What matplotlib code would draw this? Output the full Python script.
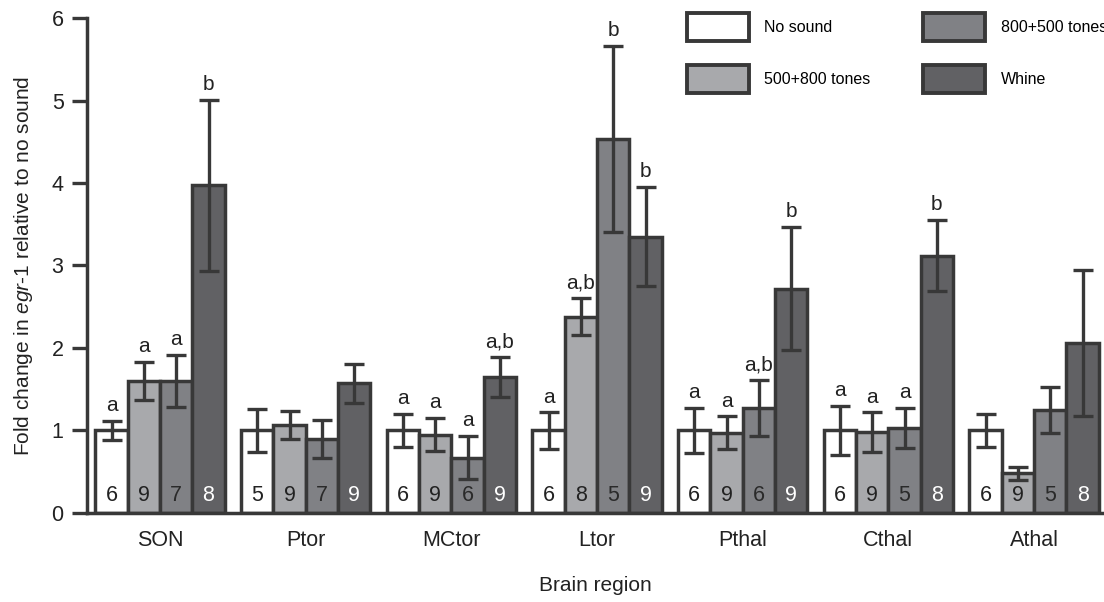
import numpy as np
import matplotlib
matplotlib.use('Agg')
import matplotlib.pyplot as plt
from matplotlib.patches import Patch

plt.rcParams['font.family'] = ['Liberation Sans', 'DejaVu Sans']
plt.rcParams['mathtext.fontset'] = 'custom'
plt.rcParams['mathtext.it'] = 'Liberation Sans:italic'
plt.rcParams['mathtext.rm'] = 'Liberation Sans'

# data
regions = ['SON', 'Ptor', 'MCtor', 'Ltor', 'Pthal', 'Cthal', 'Athal']
treatments = ['No sound', '500+800 tones', '800+500 tones', 'Whine']

no_sound = [1.00, 1.00, 1.00, 1.00, 1.00, 1.00, 1.00]
tones_500_800 = [1.60, 1.07, 0.95, 2.38, 0.97, 0.98, 0.48]
tones_800_500 = [1.60, 0.90, 0.67, 4.53, 1.27, 1.03, 1.25]
whine = [3.97, 1.57, 1.65, 3.35, 2.72, 3.12, 2.06]

no_sound_err = [0.12, 0.26, 0.20, 0.22, 0.27, 0.30, 0.20]
tones_500_800_err = [0.23, 0.17, 0.20, 0.22, 0.20, 0.24, 0.08]
tones_800_500_err = [0.32, 0.23, 0.26, 1.13, 0.34, 0.24, 0.28]
whine_err = [1.04, 0.24, 0.24, 0.60, 0.75, 0.43, 0.89]

n_no_sound = [6, 5, 6, 6, 6, 6, 6]
n_500_800 = [9, 9, 9, 8, 9, 9, 9]
n_800_500 = [7, 7, 6, 5, 6, 5, 5]
n_whine = [8, 9, 9, 9, 9, 8, 8]

let_no_sound = ['a', '', 'a', 'a', 'a', 'a', '']
let_500_800 = ['a', '', 'a', 'a,b', 'a', 'a', '']
let_800_500 = ['a', '', 'a', 'b', 'a,b', 'a', '']
let_whine = ['b', '', 'a,b', 'b', 'b', 'b', '']

means = [no_sound, tones_500_800, tones_800_500, whine]
errs = [no_sound_err, tones_500_800_err, tones_800_500_err, whine_err]
ns = [n_no_sound, n_500_800, n_800_500, n_whine]
letters = [let_no_sound, let_500_800, let_800_500, let_whine]

colors = ['#ffffff', '#a8a9ac', '#808185', '#616164']
num_colors = ['#222222', '#222222', '#2a2a2a', '#ffffff']
edge = '#383838'

fig = plt.figure(figsize=(11.04, 6.02), dpi=100)
ax = fig.add_axes([0.079, 0.148, 0.921, 0.822])

x = np.arange(len(regions))
width = 0.222

for i in range(4):
    pos = x + (i - 1.5) * width
    ax.bar(pos, means[i], width, color=colors[i], edgecolor=edge, linewidth=2.5, zorder=2)
    ax.errorbar(pos, means[i], yerr=errs[i], fmt='none', ecolor=edge,
                elinewidth=2.4, capsize=7.5, capthick=2.4, zorder=3)
    for j in range(len(regions)):
        ax.text(pos[j], 0.08, str(ns[i][j]), ha='center', va='bottom',
                fontsize=15.5, color=num_colors[i], zorder=4)
        if letters[i][j]:
            ax.text(pos[j], means[i][j] + errs[i][j] + 0.07, letters[i][j],
                    ha='center', va='bottom', fontsize=15, color='#222222')

ax.set_xlim(-0.5, 6.48)
ax.set_ylim(0, 6)
ax.set_yticks(range(7))
ax.set_xticks(x)
ax.set_xticklabels(regions)
ax.tick_params(axis='x', length=0, pad=12, labelsize=15.5, colors='#222222')
ax.tick_params(axis='y', length=11, width=2.4, pad=6, labelsize=15.5, color=edge, labelcolor='#222222')
for s in ['top', 'right']:
    ax.spines[s].set_visible(False)
for s in ['left', 'bottom']:
    ax.spines[s].set_linewidth(2.5)
    ax.spines[s].set_color(edge)
    ax.spines[s].set_zorder(5)

ax.set_xlabel('Brain region', fontsize=15, labelpad=18, color='#222222')
ax.set_ylabel('Fold change in $\\mathit{egr}$-$\\mathit{1}$ relative to no sound',
              fontsize=15, labelpad=12, color='#222222')

handles = [Patch(facecolor=colors[i], edgecolor=edge, linewidth=2.8) for i in range(4)]
fig.legend(handles, treatments, loc='upper left', bbox_to_anchor=(0.622, 0.978),
           ncol=2, frameon=False, fontsize=11.5, handlelength=3.9, handleheight=2.3,
           handletextpad=0.95, columnspacing=3.3, labelspacing=1.5, borderpad=0,
           borderaxespad=0)

fig.savefig('out.png', dpi=100)
